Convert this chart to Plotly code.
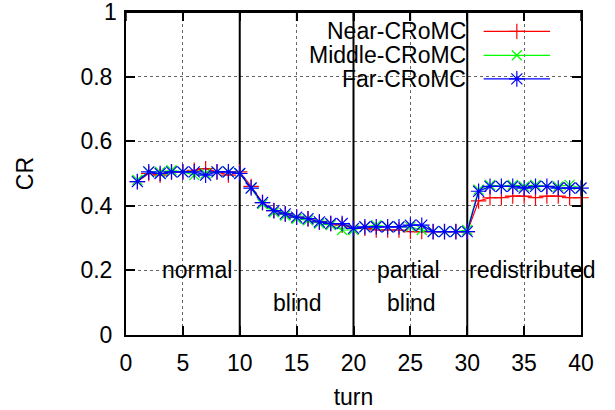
import plotly.graph_objects as go

turns = list(range(1, 41))
near = [0.475, 0.50, 0.495, 0.505, 0.505, 0.51, 0.515, 0.505, 0.495, 0.505,
        0.46, 0.41, 0.385, 0.375, 0.365, 0.36, 0.35, 0.345, 0.34, 0.33,
        0.33, 0.325, 0.325, 0.325, 0.32, 0.32, 0.32, 0.32, 0.32, 0.32,
        0.415, 0.425, 0.425, 0.43, 0.43, 0.425, 0.43, 0.43, 0.425, 0.425]
middle = [0.48, 0.505, 0.505, 0.51, 0.505, 0.495, 0.50, 0.505, 0.505, 0.50,
          0.455, 0.405, 0.38, 0.37, 0.36, 0.355, 0.345, 0.34, 0.325, 0.325,
          0.335, 0.34, 0.335, 0.335, 0.335, 0.325, 0.32, 0.32, 0.32, 0.325,
          0.45, 0.465, 0.46, 0.465, 0.46, 0.465, 0.46, 0.46, 0.465, 0.455]
far = [0.475, 0.505, 0.50, 0.505, 0.505, 0.505, 0.495, 0.505, 0.505, 0.50,
       0.455, 0.41, 0.385, 0.375, 0.365, 0.36, 0.35, 0.345, 0.345, 0.33,
       0.335, 0.335, 0.335, 0.335, 0.34, 0.34, 0.32, 0.32, 0.32, 0.32,
       0.445, 0.46, 0.46, 0.46, 0.455, 0.46, 0.46, 0.455, 0.455, 0.455]

series_names = ["Near-CRoMC", "Middle-CRoMC", "Far-CRoMC"]
series_values = [near, middle, far]
series_colors = ["#ff0000", "#00ff00", "#0000ff"]
series_symbols = ["cross-thin-open", "x-thin-open", "asterisk-open"]
series_sizes = [11, 10, 13]

x_ticks = [0, 5, 10, 15, 20, 25, 30, 35, 40]
y_ticks = [0, 0.2, 0.4, 0.6, 0.8, 1]
y_ticktext = ["0", "0.2", "0.4", "0.6", "0.8", ""]

phase_bounds = [10, 20, 30]
phase_labels = ["normal", "blind", "partial", "blind", "redistributed"]
phase_label_x = [6.2, 15.1, 24.8, 25.1, 35.7]
phase_label_y = [0.2, 0.1, 0.2, 0.1, 0.2]

FONT = "Liberation Sans, Arial, sans-serif"
FS = 23
PLOT_H = 410 - 12 - 75

fig = go.Figure()
for name, vals, col, sym, sz in zip(series_names, series_values, series_colors,
                                    series_symbols, series_sizes):
    fig.add_trace(go.Scatter(
        x=turns, y=vals, name=name, mode="lines+markers",
        line=dict(color=col, width=1.2),
        marker=dict(symbol=sym, size=sz, color=col, line=dict(color=col, width=1.2)),
        showlegend=False, cliponaxis=False))

# manual gnuplot-style key (text on the left, sample on the right), in axis-fraction units
key_y = [0.94, 0.866, 0.793]
key_x = [0.786, 0.859, 0.932]
for name, col, sym, sz, ky in zip(series_names, series_colors, series_symbols,
                                   series_sizes, key_y):
    fig.add_shape(type="line", x0=key_x[0], x1=key_x[2], y0=ky, y1=ky,
                  xref="x domain", yref="y domain", line=dict(color=col, width=1.2),
                  layer="above")
    fig.add_annotation(x=key_x[1], y=ky, xref="x domain", yref="y domain",
                       text=("+" if sym.startswith("cross") else
                             "×" if sym.startswith("x") else "✳"),
                       showarrow=False, xanchor="center", yanchor="middle",
                       font=dict(family="DejaVu Sans", size=18, color=col),
                       visible=False)
    fig.add_annotation(x=0.752, y=ky, xref="x domain", yref="y domain", text=name,
                       showarrow=False, xanchor="right", yanchor="middle",
                       font=dict(family=FONT, size=FS, color="black"))

# key sample markers drawn as single-point traces placed through the axis scales
x_range = [0, 40]
for col, sym, sz, ky in zip(series_colors, series_symbols, series_sizes, key_y):
    fig.add_trace(go.Scatter(
        x=[x_range[0] + key_x[1] * (x_range[1] - x_range[0])], y=[ky],
        mode="markers",
        marker=dict(symbol=sym, size=sz, color=col, line=dict(color=col, width=1.2)),
        showlegend=False, hoverinfo="skip", cliponaxis=False))

for xb in phase_bounds:
    fig.add_shape(type="line", x0=xb, x1=xb, y0=0, y1=1, xref="x", yref="y",
                  line=dict(color="black", width=2), layer="between")

# top border and its inward ticks
fig.add_shape(type="line", x0=0, x1=1, y0=1, y1=1, xref="paper", yref="paper",
              line=dict(color="black", width=2), layer="above")
for xt in x_ticks:
    fig.add_shape(type="line", x0=xt, x1=xt, y0=1, y1=1 - 9 / PLOT_H,
                  xref="x", yref="paper", line=dict(color="black", width=1.5),
                  layer="above")
# top y tick label
fig.add_annotation(x=0, y=1, xref="paper", yref="paper", text="1", showarrow=False,
                   xanchor="right", yanchor="middle", xshift=-7,
                   font=dict(family=FONT, size=FS, color="black"))

for txt, lx, ly in zip(phase_labels, phase_label_x, phase_label_y):
    fig.add_annotation(x=lx, y=ly, xref="x", yref="y", text=txt, showarrow=False,
                       xanchor="center", yanchor="middle",
                       font=dict(family=FONT, size=FS, color="black"))

axis_common = dict(showline=True, linecolor="black", linewidth=2, mirror="ticks",
                   ticks="inside", ticklen=9, tickwidth=1.5, tickcolor="black",
                   showgrid=True, gridcolor="#666", griddash="dot", gridwidth=1,
                   zeroline=False, automargin=False,
                   tickfont=dict(family=FONT, size=FS, color="black"))

fig.update_layout(
    template="none",
    width=615, height=410,
    margin=dict(l=126, r=34, t=12, b=75),
    paper_bgcolor="white", plot_bgcolor="white",
    font=dict(family=FONT, size=FS, color="black"),
    xaxis=dict(range=x_range, tickvals=x_ticks,
               title=dict(text="turn", standoff=14, font=dict(family=FONT, size=FS)),
               ticklabelstandoff=6, **axis_common),
    yaxis=dict(range=[0, 1], tickvals=y_ticks, ticktext=y_ticktext,
               title=dict(text="CR", standoff=40, font=dict(family=FONT, size=FS)),
               ticklabelstandoff=7, **axis_common),
)

fig.write_html("out.html", config={"displayModeBar": False},
               post_script="document.body.style.margin='0';document.body.style.padding='0';")
